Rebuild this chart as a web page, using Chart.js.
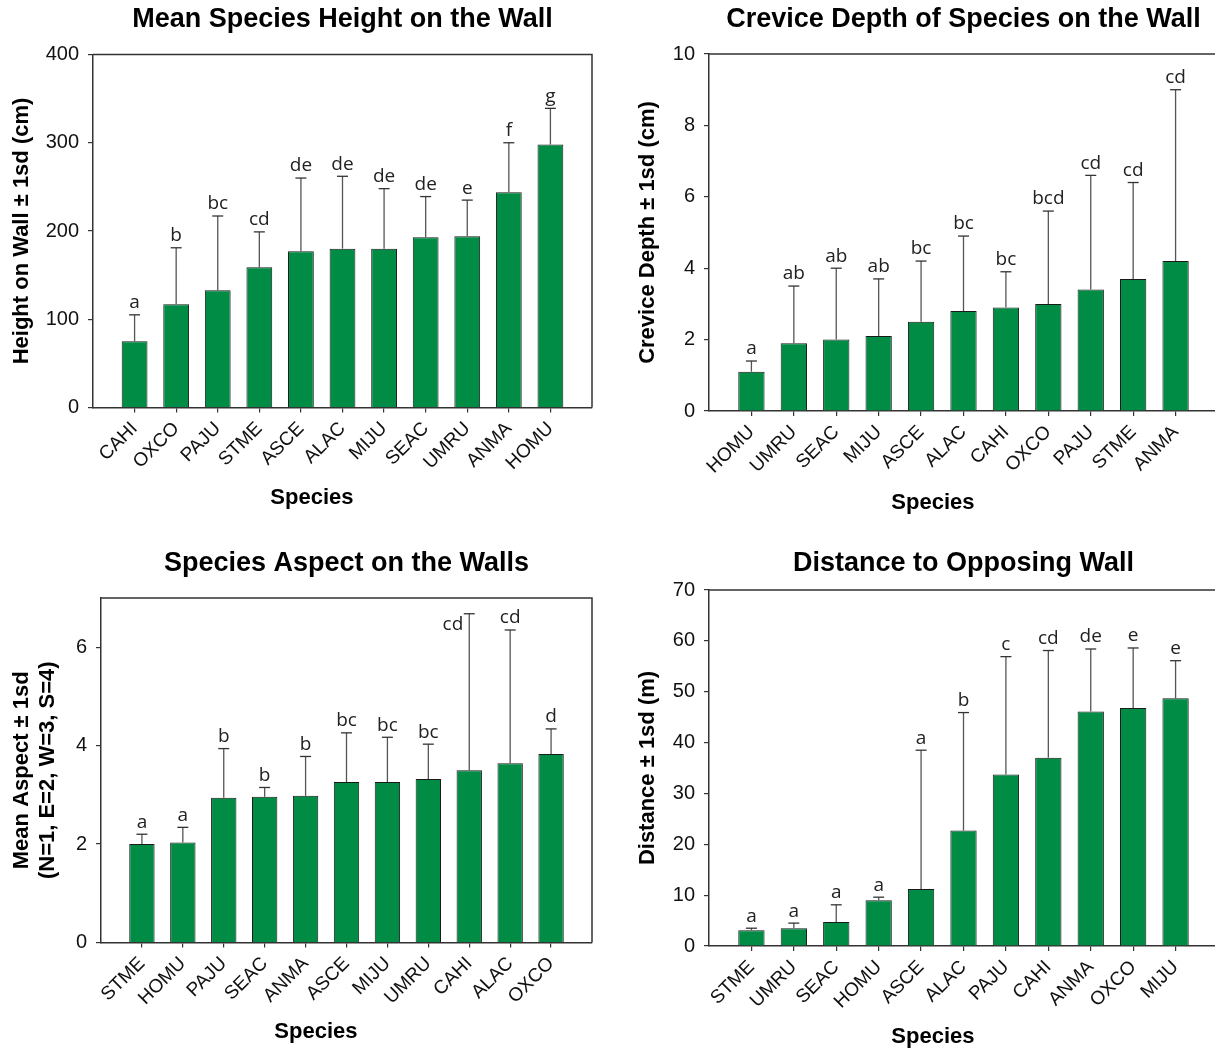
<!DOCTYPE html>
<html>
<head>
<meta charset="utf-8">
<title>Species on the Wall</title>
<script src="https://cdn.jsdelivr.net/npm/chart.js@4.4.1/dist/chart.umd.min.js"></script>
<style>
    html, body { margin: 0; padding: 0; background: #fff; }
    #page { position: relative; width: 1215px; height: 1050px; overflow: hidden; }
    #page canvas { position: absolute; }
</style>
</head>
<body>
<div id="page">
    <canvas id="heightChart" width="607" height="525" style="left:0;top:0"></canvas>
    <canvas id="creviceChart" width="620" height="525" style="left:607px;top:0"></canvas>
    <canvas id="aspectChart" width="607" height="525" style="left:0;top:525px"></canvas>
    <canvas id="distanceChart" width="620" height="525" style="left:607px;top:525px"></canvas>
</div>
<script>
// Height on the wall (cm)
const heightSpecies = ['CAHI', 'OXCO', 'PAJU', 'STME', 'ASCE', 'ALAC', 'MIJU', 'SEAC', 'UMRU', 'ANMA', 'HOMU'];
const heightMean = [75, 117, 133, 159, 177, 180, 180, 193, 194, 244, 298];
const heightSd = [30, 64, 84, 40, 83, 82, 68, 46, 41, 56, 41];
const heightLetters = ['a', 'b', 'bc', 'cd', 'de', 'de', 'de', 'de', 'e', 'f', 'g'];

// Crevice depth (cm)
const creviceSpecies = ['HOMU', 'UMRU', 'SEAC', 'MIJU', 'ASCE', 'ALAC', 'CAHI', 'OXCO', 'PAJU', 'STME', 'ANMA'];
const creviceMean = [1.1, 1.9, 2.0, 2.1, 2.5, 2.8, 2.9, 3.0, 3.4, 3.7, 4.2];
const creviceSd = [0.3, 1.6, 2.0, 1.6, 1.7, 2.1, 1.0, 2.6, 3.2, 2.7, 4.8];
const creviceLetters = ['a', 'ab', 'ab', 'ab', 'bc', 'bc', 'bc', 'bcd', 'cd', 'cd', 'cd'];

// Aspect (N=1, E=2, W=3, S=4)
const aspectSpecies = ['STME', 'HOMU', 'PAJU', 'SEAC', 'ANMA', 'ASCE', 'MIJU', 'UMRU', 'CAHI', 'ALAC', 'OXCO'];
const aspectMean = [2.0, 2.03, 2.94, 2.96, 2.98, 3.26, 3.26, 3.32, 3.5, 3.64, 3.83];
const aspectSd = [0.2, 0.31, 1.0, 0.19, 0.8, 1.0, 0.91, 0.71, 3.18, 2.71, 0.51];
const aspectLetters = ['a', 'a', 'b', 'b', 'b', 'bc', 'bc', 'bc', 'cd', 'cd', 'd'];

// Distance to opposing wall (m)
const distanceSpecies = ['STME', 'UMRU', 'SEAC', 'HOMU', 'ASCE', 'ALAC', 'PAJU', 'CAHI', 'ANMA', 'OXCO', 'MIJU'];
const distanceMean = [3.1, 3.5, 4.7, 9.0, 11.2, 22.7, 33.7, 37.0, 46.1, 46.8, 48.7];
const distanceSd = [0.4, 1.0, 3.4, 0.6, 27.3, 23.2, 23.2, 21.1, 12.3, 11.8, 7.4];
const distanceLetters = ['a', 'a', 'a', 'a', 'a', 'b', 'c', 'cd', 'de', 'e', 'e'];

const BAR_GREEN = '#008c45';
const AXIS_COLOR = '#333333';
const FONT = "'Liberation Sans', Arial, sans-serif";
const TITLE_SIZE = 27;

// Draws the +1sd whiskers and the significance letters above them
const errorBarPlugin = {
    id: 'errorBars',
    afterDatasetsDraw(chart) {
        const ctx = chart.ctx;
        const area = chart.chartArea;
        const ds = chart.data.datasets[0];
        const yScale = chart.scales.y;
        const meta = chart.getDatasetMeta(0);

        ctx.save();
        ctx.font = "19px 'Open Sans', sans-serif";
        meta.data.forEach((bar, i) => {
            const top = yScale.getPixelForValue(ds.data[i].y + ds.sd[i]);

            ctx.strokeStyle = '#555555';
            ctx.lineWidth = 1.3;
            ctx.beginPath();
            ctx.moveTo(bar.x, bar.y);
            ctx.lineTo(bar.x, top);
            ctx.stroke();

            ctx.strokeStyle = '#333333';
            ctx.beginPath();
            ctx.moveTo(bar.x - 5.5, top);
            ctx.lineTo(bar.x + 5.5, top);
            ctx.stroke();

            // letter goes above the cap, or beside it when there is no room
            ctx.fillStyle = '#222222';
            if (top - 24 < area.top) {
                ctx.textAlign = 'right';
                ctx.textBaseline = 'top';
                ctx.fillText(ds.letters[i], bar.x - 6, top + 1);
            } else {
                ctx.textAlign = 'center';
                ctx.textBaseline = 'bottom';
                ctx.fillText(ds.letters[i], bar.x, top - 2.5);
            }
        });
        ctx.restore();
    }
};

// Top and right edges of the plot box
const framePlugin = {
    id: 'frame',
    afterDraw(chart) {
        const {ctx, chartArea} = chart;
        ctx.save();
        ctx.strokeStyle = AXIS_COLOR;
        ctx.lineWidth = 1.5;
        ctx.beginPath();
        ctx.moveTo(chartArea.left, chartArea.top);
        ctx.lineTo(chartArea.right, chartArea.top);
        ctx.lineTo(chartArea.right, chartArea.bottom);
        ctx.stroke();
        ctx.restore();
    }
};

function makeChart(id, cfg) {
    const ctx = document.getElementById(id).getContext('2d');
    const canvasH = ctx.canvas.height;
    const canvasW = ctx.canvas.width;

    return new Chart(ctx, {
        type: 'bar',
        data: {
            datasets: [{
                data: cfg.species.map((s, i) => ({x: i, y: cfg.mean[i]})),
                sd: cfg.sd,
                letters: cfg.letters,
                backgroundColor: BAR_GREEN,
                borderColor: '#1a1a1a',
                borderWidth: 1,
                barPercentage: 0.62,
                categoryPercentage: 1
            }]
        },
        options: {
            responsive: false,
            animation: false,
            devicePixelRatio: 1,
            layout: {
                padding: {left: 0, top: 0, bottom: 0, right: canvasW - cfg.area.right}
            },
            scales: {
                x: {
                    type: 'linear',
                    min: -1,
                    max: 11,
                    offset: false,
                    afterBuildTicks: scale => {
                        scale.ticks = cfg.species.map((s, i) => ({value: i}));
                    },
                    afterFit: scale => {
                        scale.height = canvasH - cfg.area.bottom;
                    },
                    ticks: {
                        autoSkip: false,
                        minRotation: 45,
                        maxRotation: 45,
                        padding: 5,
                        color: '#111',
                        font: {family: FONT, size: 19},
                        callback: value => cfg.species[value]
                    },
                    grid: {
                        display: true,
                        offset: false,
                        drawOnChartArea: false,
                        drawTicks: true,
                        tickLength: 5,
                        color: AXIS_COLOR,
                        lineWidth: 1.2
                    },
                    border: {display: true, color: AXIS_COLOR, width: 1.5},
                    title: {
                        display: true,
                        // trailing spaces pull the centred title to the left like the original
                        text: 'Species' + ' '.repeat(10),
                        color: '#000',
                        font: {family: FONT, size: 22, weight: 'bold'},
                        padding: {top: 0, bottom: cfg.xTitlePad}
                    }
                },
                y: {
                    min: 0,
                    max: cfg.yMax,
                    afterFit: scale => {
                        scale.width = cfg.area.left;
                    },
                    ticks: {
                        stepSize: cfg.yStep,
                        includeBounds: false,
                        padding: 9,
                        color: '#111',
                        font: {family: FONT, size: 20}
                    },
                    grid: {
                        display: true,
                        drawOnChartArea: false,
                        drawTicks: true,
                        tickLength: 5,
                        color: AXIS_COLOR,
                        lineWidth: 1.2
                    },
                    border: {display: true, color: AXIS_COLOR, width: 1.5},
                    title: {
                        display: true,
                        text: cfg.yTitle,
                        color: '#000',
                        font: {family: FONT, size: 22, weight: 'bold'},
                        padding: {top: cfg.yTitlePad, bottom: 0}
                    }
                }
            },
            plugins: {
                legend: {display: false},
                tooltip: {enabled: false},
                title: {
                    display: true,
                    text: cfg.title,
                    fullSize: false,
                    color: '#000',
                    font: {family: FONT, size: TITLE_SIZE, weight: 'bold'},
                    padding: {top: cfg.titleTop, bottom: cfg.area.top - cfg.titleTop - TITLE_SIZE * 1.2}
                }
            }
        },
        plugins: [errorBarPlugin, framePlugin]
    });
}

makeChart('heightChart', {
    species: heightSpecies, mean: heightMean, sd: heightSd, letters: heightLetters,
    title: 'Mean Species Height on the Wall',
    yTitle: 'Height on Wall \u00b1 1sd (cm)',
    yMax: 400, yStep: 100,
    area: {left: 93, top: 54.5, right: 592, bottom: 407.5},
    titleTop: 3.8, xTitlePad: 13.8, yTitlePad: 8.8
});

makeChart('creviceChart', {
    species: creviceSpecies, mean: creviceMean, sd: creviceSd, letters: creviceLetters,
    title: 'Crevice Depth of Species on the Wall',
    yTitle: 'Crevice Depth \u00b1 1sd (cm)',
    yMax: 10, yStep: 2,
    area: {left: 102, top: 54, right: 611, bottom: 411},
    titleTop: 3.8, xTitlePad: 8.8, yTitlePad: 27.8
});

makeChart('aspectChart', {
    species: aspectSpecies, mean: aspectMean, sd: aspectSd, letters: aspectLetters,
    title: 'Species Aspect on the Walls',
    yTitle: ['Mean Aspect \u00b1 1sd', '(N=1, E=2, W=3, S=4)'],
    yMax: 7, yStep: 2,
    area: {left: 101, top: 73, right: 592, bottom: 417.5},
    titleTop: 22.8, xTitlePad: 4.8, yTitlePad: 8.8
});

makeChart('distanceChart', {
    species: distanceSpecies, mean: distanceMean, sd: distanceSd, letters: distanceLetters,
    title: 'Distance to Opposing Wall',
    yTitle: 'Distance \u00b1 1sd (m)',
    yMax: 70, yStep: 10,
    area: {left: 102, top: 65, right: 611, bottom: 421},
    titleTop: 22.8, xTitlePad: 0, yTitlePad: 27.8
});
</script>
</body>
</html>
